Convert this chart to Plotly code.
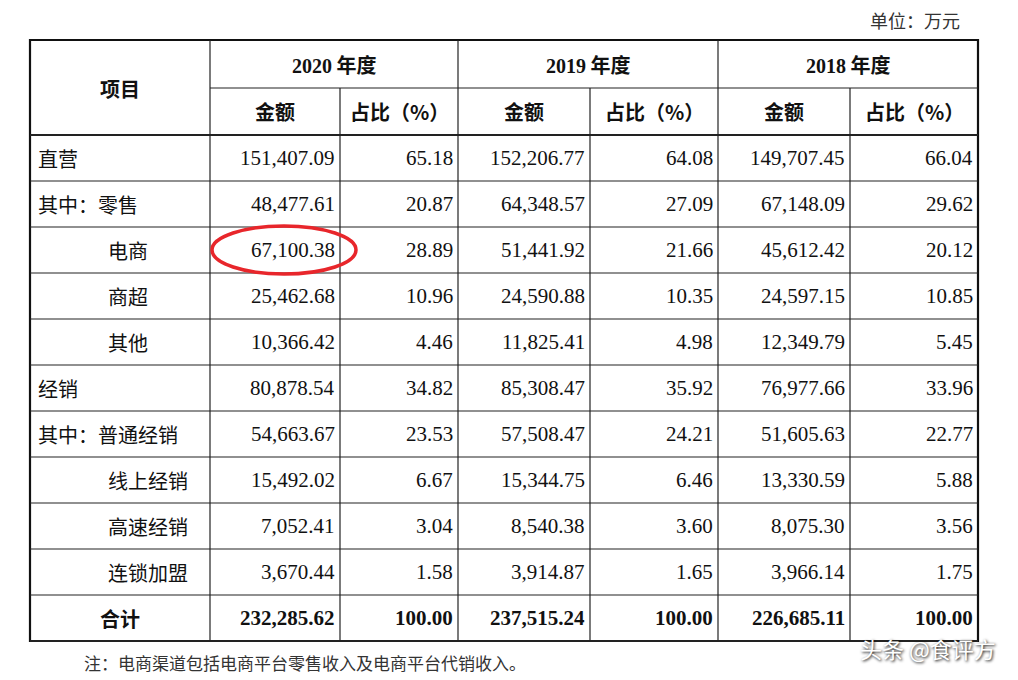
import plotly.graph_objects as go

items = ["直营", "其中：零售", "电商", "商超", "其他", "经销", "其中：普通经销", "线上经销", "高速经销", "连锁加盟", "合计"]
indent = [0, 0, 1, 1, 1, 0, 0, 1, 1, 1, 2]
years = ["2020 年度", "2019 年度", "2018 年度"]
amt_2020 = ["151,407.09", "48,477.61", "67,100.38", "25,462.68", "10,366.42", "80,878.54", "54,663.67", "15,492.02", "7,052.41", "3,670.44", "232,285.62"]
pct_2020 = ["65.18", "20.87", "28.89", "10.96", "4.46", "34.82", "23.53", "6.67", "3.04", "1.58", "100.00"]
amt_2019 = ["152,206.77", "64,348.57", "51,441.92", "24,590.88", "11,825.41", "85,308.47", "57,508.47", "15,344.75", "8,540.38", "3,914.87", "237,515.24"]
pct_2019 = ["64.08", "27.09", "21.66", "10.35", "4.98", "35.92", "24.21", "6.46", "3.60", "1.65", "100.00"]
amt_2018 = ["149,707.45", "67,148.09", "45,612.42", "24,597.15", "12,349.79", "76,977.66", "51,605.63", "13,330.59", "8,075.30", "3,966.14", "226,685.11"]
pct_2018 = ["66.04", "29.62", "20.12", "10.85", "5.45", "33.96", "22.77", "5.88", "3.56", "1.75", "100.00"]

cols = [30, 210, 340, 458, 590, 718, 850, 978]
top, h1, h2 = 40, 88, 135
rh = 46
n = len(items)
bottom = h2 + rh * n

CJK = "Noto Sans CJK SC"
SERIF = "Liberation Serif"
fig = go.Figure()
ann = []
shapes = []

def line(x0, y0, x1, y1, w=1.2):
    shapes.append(dict(type="line", x0=x0, y0=y0, x1=x1, y1=y1, line=dict(color="#222", width=w), layer="above"))

shapes.append(dict(type="rect", x0=cols[0], y0=top, x1=cols[-1], y1=bottom, line=dict(color="#111", width=2.2)))
line(cols[1], h1, cols[-1], h1)
for i in range(n + 1):
    y = h2 + rh * i
    line(cols[0], y, cols[-1], y, 2 if i in (0, n) else 1.2)
for j, x in enumerate(cols[1:-1], start=1):
    if j % 2 == 1:
        line(x, top, x, bottom)
    else:
        line(x, h1, x, bottom)

def txt(x, y, s, anchor="center", font=CJK, size=20, bold=False, color="#111"):
    ann.append(dict(x=x, y=y, text=f"<b>{s}</b>" if bold else s, showarrow=False, xanchor=anchor,
                    yanchor="middle", font=dict(family=font, size=size, color=color)))

txt(915, 20, "单位：万元", size=18, color="#333")
txt((cols[0] + cols[1]) / 2, h1, "项目", bold=True)
for k, yr in enumerate(years):
    c0, c1, c2 = cols[1 + 2 * k], cols[2 + 2 * k], cols[3 + 2 * k]
    ann.append(dict(x=(c0 + c2) / 2, y=(top + h1) / 2, showarrow=False,
                    text=f"<b><span style='font-family:{SERIF}'>{yr.split()[0]}</span> {yr.split()[1]}</b>",
                    font=dict(family=CJK, size=20, color="#111")))
    txt((c0 + c1) / 2, (h1 + h2) / 2, "金额", bold=True)
    txt((c1 + c2) / 2, (h1 + h2) / 2, "占比（%）", bold=True)

data_cols = [amt_2020, pct_2020, amt_2019, pct_2019, amt_2018, pct_2018]
for i, it in enumerate(items):
    yc = h2 + rh * i + rh / 2
    if indent[i] == 0:
        txt(36, yc, it, anchor="left")
    elif indent[i] == 1:
        txt(106, yc, it, anchor="left")
    else:
        txt(120, yc, it, bold=True)
    for j, col in enumerate(data_cols):
        txt(cols[j + 2] - 3, yc, col[i], anchor="right", font=SERIF, size=21, bold=(i == n - 1))

yc = h2 + rh * 2 + rh / 2
shapes.append(dict(type="circle", x0=212, x1=356, y0=yc - 24, y1=yc + 24, line=dict(color="#e8262b", width=3.5), layer="above"))

txt(82, 662, "注：电商渠道包括电商平台零售收入及电商平台代销收入。", anchor="left", size=17, color="#333")
ann.append(dict(x=998, y=648, text="头条 @食评方", showarrow=False, xanchor="right",
                font=dict(family=CJK, size=22, color="white", shadow="1px 1px 3px #000")))

fig.update_layout(width=1018, height=680, margin=dict(l=0, r=0, t=0, b=0),
                  plot_bgcolor="white", paper_bgcolor="white", showlegend=False,
                  xaxis=dict(range=[8, 1026], visible=False, fixedrange=True),
                  yaxis=dict(range=[688, 8], visible=False, fixedrange=True),
                  shapes=shapes, annotations=ann)
fig.write_html("out.html", config={"displayModeBar": False})
